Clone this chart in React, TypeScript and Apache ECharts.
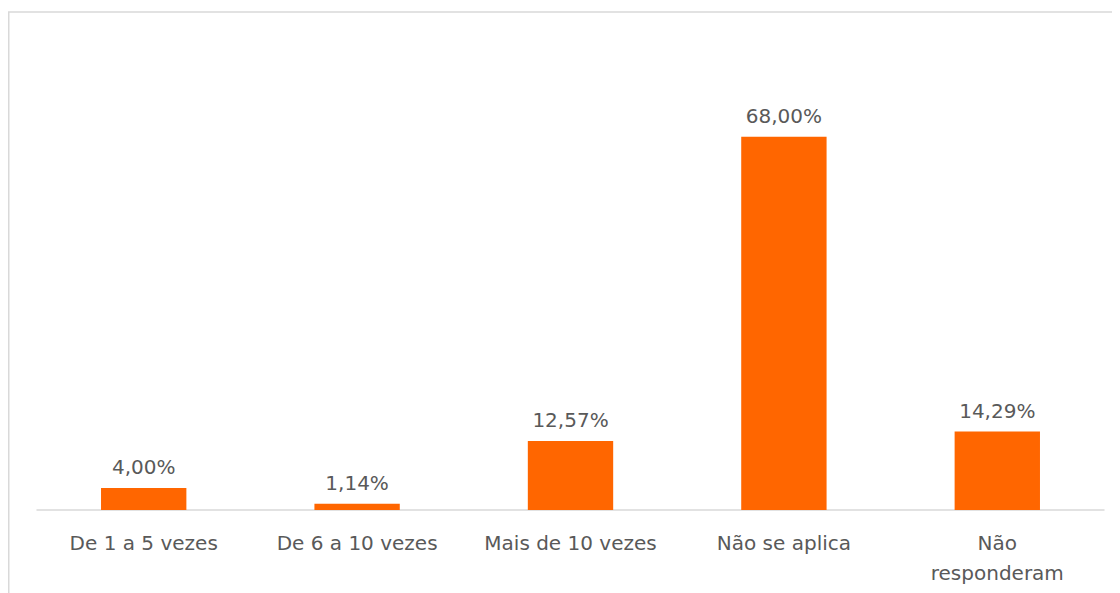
import React, { useEffect, useRef } from "react";
import * as echarts from "echarts";

const categories = ["De 1 a 5 vezes", "De 6 a 10 vezes", "Mais de 10 vezes", "Não se aplica", "Não\nresponderam"];
const values = [4.0, 1.14, 12.57, 68.0, 14.29];

const FONT = "'DejaVu Sans', sans-serif";
const TEXT = "#595959";

export default function App() {
  const ref = useRef<HTMLDivElement>(null);
  useEffect(() => {
    if (!ref.current) return;
    const chart = echarts.init(ref.current, null, { renderer: "svg" });
    chart.setOption({
      animation: false,
      backgroundColor: "#ffffff",
      graphic: [
        { type: "line", shape: { x1: 0.75, y1: 4, x2: 0.75, y2: 700 }, style: { stroke: "#d9d9d9", lineWidth: 1.5 } },
        { type: "line", shape: { x1: 0, y1: 4, x2: 1200, y2: 4 }, style: { stroke: "#d9d9d9", lineWidth: 1.5 } },
      ],
      grid: { left: 29, right: 16, top: 63, bottom: 83 },
      xAxis: {
        type: "category",
        data: categories,
        axisLine: { lineStyle: { color: "#d9d9d9", width: 1.5 } },
        axisTick: { show: false },
        axisLabel: { color: TEXT, fontSize: 20, fontFamily: FONT, margin: 18, lineHeight: 30, interval: 0 },
      },
      yAxis: {
        type: "value",
        min: 0,
        max: 80,
        show: false,
        splitLine: { show: false },
      },
      series: [
        {
          type: "bar",
          data: values,
          barWidth: "40%",
          itemStyle: { color: "#FF6600" },
          label: {
            show: true,
            position: "top",
            distance: 11,
            color: TEXT,
            fontSize: 20,
            fontFamily: FONT,
            formatter: (p: any) => p.value.toFixed(2).replace(".", ",") + "%",
          },
        },
      ],
    });
    return () => chart.dispose();
  }, []);
  return <div ref={ref} style={{ width: 1112, height: 585 }} />;
}
